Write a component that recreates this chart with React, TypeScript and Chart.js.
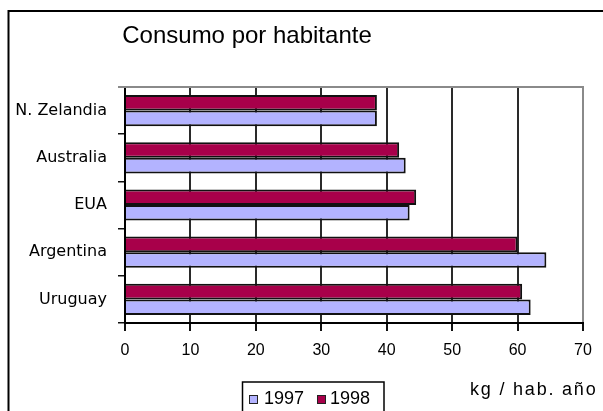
import React, { useEffect, useRef } from "react";
import { Chart, registerables } from "chart.js";

Chart.register(...registerables);

const categories = ["N. Zelandia", "Australia", "EUA", "Argentina", "Uruguay"];
const series1997 = [38.5, 42.9, 43.5, 64.4, 62.0];
const series1998 = [38.5, 41.9, 44.5, 60.0, 60.7];
const seriesLabels = ["1997", "1998"];
const xTicks = [0, 10, 20, 30, 40, 50, 60, 70];
const chartTitle = "Consumo por habitante";
const axisTitle = "kg / hab. año";

const COLOR_1997 = "#b3b3ff";
const COLOR_1998 = "#a8004a";

const decorPlugin = {
  id: "decor",
  beforeDraw(chart: any) {
    const ctx = chart.ctx;
    ctx.save();
    ctx.fillStyle = "#ffffff";
    ctx.fillRect(0, 0, chart.width, chart.height);
    ctx.strokeStyle = "#000";
    ctx.lineWidth = 2;
    ctx.strokeRect(8.5, 11, chart.width + 20, chart.height + 20);
    ctx.restore();
  },
  afterDraw(chart: any) {
    const ctx = chart.ctx;
    const area = chart.chartArea;
    ctx.save();
    // top border of plot area
    ctx.strokeStyle = "#8a8a8a";
    ctx.lineWidth = 2;
    ctx.beginPath();
    ctx.moveTo(area.left - 7, area.top);
    ctx.lineTo(area.right + 1, area.top);
    ctx.stroke();

    // title
    ctx.fillStyle = "#000";
    ctx.font = "24px 'Liberation Sans', Arial, sans-serif";
    ctx.textAlign = "center";
    ctx.textBaseline = "alphabetic";
    ctx.fillText(chartTitle, 247, 43);

    // axis title
    ctx.font = "18px 'Liberation Sans', Arial, sans-serif";
    (ctx as any).letterSpacing = "1.8px";
    ctx.textAlign = "left";
    ctx.fillText(axisTitle, 470, 395);
    (ctx as any).letterSpacing = "0px";

    // legend box
    ctx.strokeStyle = "#000";
    ctx.lineWidth = 1.5;
    ctx.strokeRect(242.5, 382, 141.5, 60);
    const items = [
      { label: chart.data.datasets[1].label, color: chart.data.datasets[1].backgroundColor, sx: 249, tx: 264 },
      { label: chart.data.datasets[0].label, color: chart.data.datasets[0].backgroundColor, sx: 317, tx: 330 },
    ];
    ctx.font = "18px 'Liberation Sans', Arial, sans-serif";
    items.forEach((it) => {
      ctx.fillStyle = it.color;
      ctx.fillRect(it.sx, 395, 9, 9);
      ctx.strokeStyle = "#222";
      ctx.lineWidth = 1;
      ctx.strokeRect(it.sx + 0.5, 395.5, 8, 8);
      ctx.fillStyle = "#000";
      ctx.fillText(it.label, it.tx, 404);
    });
    ctx.restore();
  },
};

export default function App() {
  const ref = useRef<HTMLCanvasElement>(null);
  useEffect(() => {
    if (!ref.current) return;
    const chart = new Chart(ref.current, {
      type: "bar",
      data: {
        labels: categories,
        datasets: [
          {
            label: seriesLabels[1],
            data: series1998,
            backgroundColor: COLOR_1998,
            borderColor: "#111",
            borderWidth: 2,
            categoryPercentage: 0.66,
            barPercentage: 1.0,
          },
          {
            label: seriesLabels[0],
            data: series1997,
            backgroundColor: COLOR_1997,
            borderColor: "#111",
            borderWidth: 2,
            categoryPercentage: 0.66,
            barPercentage: 1.0,
          },
        ],
      },
      options: {
        indexAxis: "y",
        responsive: false,
        animation: false,
        devicePixelRatio: 1,
        layout: { padding: { top: 87, right: 20, bottom: 0, left: 0 } },
        plugins: {
          legend: { display: false },
          title: { display: false },
          tooltip: { enabled: false },
        },
        scales: {
          x: {
            min: 0,
            max: 70,
            afterBuildTicks: (s: any) => {
              s.ticks = xTicks.map((v) => ({ value: v }));
            },
            afterFit: (s: any) => {
              s.height = 88;
            },
            ticks: {
              color: "#000",
              font: { family: "'Liberation Sans', Arial, sans-serif", size: 16 },
              padding: 10,
              maxRotation: 0,
            },
            grid: {
              color: (c: any) => (c.tick && c.tick.value === 70 ? "#8a8a8a" : "#2a2a2a"),
              tickColor: "#111",
              lineWidth: 2,
              tickLength: 8,
            },
            border: { color: "#000", width: 2 },
          },
          y: {
            afterFit: (s: any) => {
              s.width = 125;
            },
            ticks: {
              color: "#000",
              font: { family: "'DejaVu Sans', sans-serif", size: 16 },
              padding: 11,
            },
            grid: {
              drawOnChartArea: false,
              drawTicks: true,
              tickLength: 7,
              color: "#111",
              lineWidth: 1.5,
            },
            border: { color: "#000", width: 2 },
          },
        },
      },
      plugins: [decorPlugin],
    });
    return () => chart.destroy();
  }, []);
  return (
    <div style={{ position: "fixed", left: 0, top: 0, width: 603, height: 411, background: "#fff" }}>
      <canvas ref={ref} width={603} height={411} style={{ display: "block" }} />
    </div>
  );
}
